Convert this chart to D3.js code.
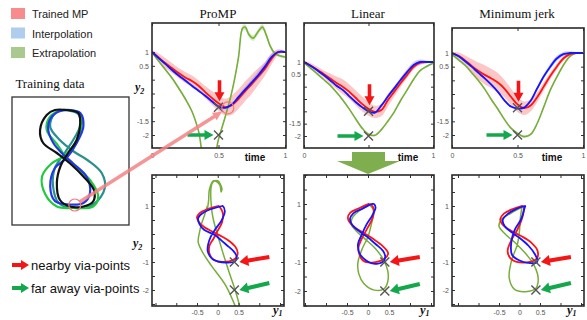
<!DOCTYPE html>
<html><head><meta charset="utf-8">
<script src="https://cdn.jsdelivr.net/npm/d3@7"></script>
<style>body{margin:0;background:#fff}svg{display:block}</style>
</head><body>
<svg id="c" width="587" height="320"></svg>
<script>
// ---------------- DATA ----------------
const time = [0,0.05,0.1,0.15,0.2,0.25,0.3,0.35,0.4,0.45,0.5,0.55,0.6,0.65,0.7,0.75,0.8,0.85,0.9,0.95,1];
const timePromGreen = [0,0.05,0.1,0.15,0.2,0.25,0.3,0.35,0.4,0.45,0.5,0.55,0.6,0.65,0.68,0.7,0.73,0.76,0.8,0.83,0.86,0.89,0.92,0.96,1];

// ProMP
const promRedY2  = [1,0.8,0.6,0.42,0.24,0.08,-0.05,-0.22,-0.45,-0.66,-0.85,-0.99,-0.92,-0.7,-0.42,-0.16,0.12,0.4,0.76,1.0,1];
const promRedY1  = [0,-0.38,-0.5,-0.45,-0.32,-0.12,0.05,0.25,0.42,0.48,0.44,0.2,-0.1,-0.2,-0.2,-0.1,0,0.1,0.12,0.02,0];
const promBlueY2 = [1,0.78,0.57,0.35,0.15,-0.03,-0.22,-0.4,-0.58,-0.78,-0.97,-1.02,-0.9,-0.63,-0.36,-0.1,0.17,0.48,0.82,1.0,1];
const promBlueY1 = [0.1,-0.33,-0.47,-0.44,-0.33,-0.08,0.08,0.22,0.36,0.45,0.42,0.2,-0.12,-0.24,-0.23,-0.17,-0.06,0.09,0.17,0.12,0.1];
const promGreenY2 = [1,0.67,0.37,0.06,-0.3,-0.69,-1.14,-1.86,-3.0,-3.1,-2.15,-1.35,-0.45,0.8,1.85,1.9,1.62,1.5,1.75,1.9,1.6,1.2,0.97,0.86,0.82];
const promGreenY1 = [-0.25,-0.32,-0.39,-0.44,-0.47,-0.35,-0.15,0.2,0.55,0.6,0.45,0.27,0.08,-0.14,-0.12,0.0,0.1,0.08,0.05,-0.1,-0.2,-0.22,-0.24,-0.25,-0.25];
const promRedBand  = [0.05,0.15,0.18,0.18,0.18,0.2,0.2,0.2,0.22,0.25,0.28,0.3,0.35,0.35,0.35,0.35,0.3,0.25,0.2,0.1,0.03];
const promBlueBand = [0.02,0.04,0.04,0.05,0.05,0.05,0.05,0.05,0.05,0.05,0.05,0.05,0.06,0.08,0.1,0.12,0.14,0.14,0.12,0.06,0.02];
const promGreenBand = [0.04,0.05,0.05,0.05,0.05,0.05,0.05,0.05,0.05,0.05,0.05,0.05,0.06,0.08,0.1,0.1,0.1,0.1,0.1,0.1,0.1,0.08,0.06,0.05,0.05];

// Linear
const linRedY2  = [1,0.86,0.7,0.52,0.34,0.16,0,-0.2,-0.45,-0.7,-0.9,-1.02,-0.95,-0.55,-0.2,0.15,0.48,0.8,0.97,1,1];
const linRedY1  = [0,-0.2,-0.42,-0.48,-0.42,-0.28,-0.1,0.12,0.35,0.48,0.38,0.1,-0.12,-0.23,-0.15,-0.02,0.1,0.14,0.08,0.02,0];
const linBlueY2 = [1,0.85,0.68,0.48,0.27,0.05,-0.13,-0.38,-0.62,-0.83,-1.0,-1.05,-0.76,-0.4,-0.06,0.28,0.6,0.88,1,1,1];
const linBlueY1 = [0.08,-0.12,-0.35,-0.43,-0.37,-0.2,-0.02,0.18,0.36,0.41,0.35,0.1,-0.18,-0.24,-0.15,-0.04,0.1,0.18,0.14,0.1,0.08];
const linGreenY2 = [0.97,0.75,0.53,0.3,0.07,-0.22,-0.54,-0.9,-1.3,-1.68,-1.93,-1.97,-1.74,-1.4,-1.02,-0.55,-0.13,0.3,0.65,0.82,0.95];
const linGreenY1 = [0.02,-0.22,-0.37,-0.4,-0.28,-0.06,0.18,0.36,0.47,0.47,0.38,0.15,-0.1,-0.22,-0.24,-0.14,0,0.08,0.13,0.12,0.05];
const linRedBand  = [0.05,0.1,0.12,0.15,0.2,0.25,0.3,0.3,0.3,0.3,0.28,0.25,0.25,0.25,0.2,0.15,0.12,0.1,0.08,0.05,0.03];
const linBlueBand = [0.02,0.03,0.04,0.04,0.04,0.04,0.04,0.04,0.04,0.04,0.04,0.04,0.05,0.06,0.08,0.1,0.12,0.12,0.1,0.05,0.02];
const linGreenBand = [0.04,0.04,0.04,0.04,0.04,0.04,0.04,0.04,0.04,0.04,0.04,0.04,0.04,0.04,0.04,0.05,0.05,0.05,0.05,0.04,0.04];

// Minimum jerk
const mjRedY2  = [1,0.9,0.73,0.53,0.35,0.2,0.07,-0.08,-0.3,-0.6,-0.88,-1.02,-0.92,-0.62,-0.23,0.16,0.5,0.8,0.96,1,1];
const mjRedY1  = [0.05,-0.15,-0.38,-0.47,-0.42,-0.3,-0.15,0.05,0.28,0.44,0.42,0.12,-0.18,-0.29,-0.2,-0.05,0.05,0.1,0.1,0.07,0.05];
const mjBlueY2 = [1,0.88,0.7,0.5,0.28,0.07,-0.16,-0.42,-0.73,-0.96,-1.03,-1.0,-0.75,-0.3,0.14,0.5,0.8,0.96,1,1,1];
const mjBlueY1 = [0.12,-0.1,-0.3,-0.41,-0.36,-0.2,0.02,0.22,0.38,0.44,0.4,0.1,-0.18,-0.2,-0.12,0.03,0.1,0.13,0.14,0.13,0.12];
const mjGreenY2 = [0.95,0.75,0.55,0.28,0,-0.32,-0.7,-1.05,-1.43,-1.75,-1.94,-2.06,-1.98,-1.58,-0.98,-0.36,0.12,0.55,0.88,1,1];
const mjGreenY1 = [0.05,-0.2,-0.42,-0.5,-0.35,-0.1,0.15,0.33,0.44,0.45,0.4,0.15,-0.12,-0.25,-0.2,-0.05,0,0.02,0.05,0.06,0.05];
const mjRedBand  = [0.05,0.12,0.18,0.25,0.3,0.35,0.35,0.35,0.32,0.3,0.28,0.25,0.22,0.18,0.15,0.12,0.1,0.08,0.06,0.04,0.03];
const mjBlueBand = [0.02,0.03,0.04,0.04,0.04,0.04,0.04,0.04,0.04,0.04,0.04,0.04,0.05,0.06,0.08,0.1,0.1,0.08,0.06,0.04,0.02];
const mjGreenBand = [0.04,0.04,0.04,0.04,0.04,0.04,0.04,0.04,0.04,0.04,0.04,0.04,0.04,0.04,0.04,0.05,0.05,0.05,0.05,0.04,0.04];

// via points
const viaTime = [0.5, 0.5];
const viaY2 = [-1, -2];
const viaY1 = [0.4, 0.4];

// training demonstrations (normalised y1, y2)
const trainTeal  = [[0.05,0.95],[0.3,0.88],[0.35,0.65],[0.2,0.4],[-0.05,0.1],[-0.3,-0.2],[-0.35,-0.55],[-0.2,-0.9],[0.2,-1.0],[0.7,-0.92],[0.98,-0.6],[0.9,-0.3],[0.55,-0.05],[0.2,0.12],[-0.2,0.38],[-0.42,0.62],[-0.32,0.88],[-0.1,0.96]];
const trainGreen = [[0,0.96],[0.34,0.9],[0.39,0.7],[0.26,0.36],[-0.05,0.05],[-0.4,-0.12],[-0.63,-0.37],[-0.55,-0.72],[-0.25,-0.97],[0.17,-1.0],[0.68,-0.97],[0.81,-0.77],[0.6,-0.44],[0.3,-0.22],[0.02,-0.02],[-0.25,0.28],[-0.51,0.56],[-0.43,0.82],[-0.2,0.94]];
const trainBlue  = [[0.09,0.96],[0.35,0.9],[0.43,0.63],[0.26,0.3],[0.0,0.0],[-0.3,-0.2],[-0.42,-0.57],[-0.3,-0.86],[-0.05,-0.92],[0.43,-0.9],[0.6,-0.7],[0.51,-0.37],[0.17,-0.11],[-0.1,0.08],[-0.34,0.3],[-0.47,0.56],[-0.42,0.78],[-0.2,0.93]];
const trainBlack = [[0,0.96],[0.3,0.9],[0.35,0.7],[0.26,0.36],[0.04,0.1],[-0.15,-0.15],[-0.25,-0.5],[-0.17,-0.84],[0.09,-0.97],[0.43,-0.97],[0.68,-0.87],[0.7,-0.64],[0.43,-0.37],[0.09,-0.11],[-0.25,0.1],[-0.6,0.3],[-0.68,0.56],[-0.51,0.86],[-0.3,0.96]];
const trainFocus = [0.21, -0.94];

const methods = ["ProMP", "Linear", "Minimum jerk"];
const legendItems = ["Trained MP", "Interpolation", "Extrapolation"];
const arrowLegend = ["nearby via-points", "far away via-points"];
const topYLabels = [1, 0.5, -1.5, -2];
const topXLabels = [0, 0.5, 1];
const botYLabels = [1, -1, -2];
const botXLabels = [-0.5, 0, 0.5];

// ---------------- DRAW ----------------
const svg = d3.select("#c");
const C = {red:"#ff1414", blue:"#1414ff", green:"#78ad3c",
  redBand:"rgba(246,120,120,0.42)", blueBand:"rgba(120,120,235,0.35)", greenBand:"rgba(150,215,110,0.45)",
  arrowRed:"#f41616", arrowGreen:"#14a84c", cross:"#555"};
const sans = "Liberation Sans, Arial, sans-serif";
const serif = "Liberation Serif, Times New Roman, serif";

const topPanels = [
  {box:[152,23,286,148], xr:[152,285], yr:[135,52], red:[promRedY2,promRedBand], blue:[promBlueY2,promBlueBand], green:[promGreenY2,promGreenBand], gt:timePromGreen, timeX:255, ylab:true},
  {box:[304,23,434,148], xr:[304,433], yr:[136,62], red:[linRedY2,linRedBand], blue:[linBlueY2,linBlueBand], green:[linGreenY2,linGreenBand], gt:time, timeX:408},
  {box:[452,28,584,148], xr:[452,583], yr:[135,53], red:[mjRedY2,mjRedBand], blue:[mjBlueY2,mjBlueBand], green:[mjGreenY2,mjGreenBand], gt:time, timeX:552},
];
const botPanels = [
  {box:[152,175,284,306], xr:[197,238.5], yr:[262,206], red:[promRedY1,promRedY2], blue:[promBlueY1,promBlueY2], green:[promGreenY1,promGreenY2], gt:timePromGreen, y1x:273, ylab:true},
  {box:[304,175,434,306], xr:[347,389], yr:[262,204], red:[linRedY1,linRedY2], blue:[linBlueY1,linBlueY2], green:[linGreenY1,linGreenY2], gt:time, y1x:420},
  {box:[452,175,584,306], xr:[499,540], yr:[262,206], red:[mjRedY1,mjRedY2], blue:[mjBlueY1,mjBlueY2], green:[mjGreenY1,mjGreenY2], gt:time, y1x:567},
];
const titleX = [218, 368, 517];

function arrow(g, x1, y1, x2, y2, color, sw=3.6, hl=9, hw=10) {
  const a = Math.atan2(y2-y1, x2-x1), L = Math.hypot(x2-x1, y2-y1);
  const gg = g.append("g").attr("transform", `translate(${x1},${y1}) rotate(${a*180/Math.PI})`);
  gg.append("path").attr("fill", color)
    .attr("d", `M0,${-sw/2}L${L-hl},${-sw/2}L${L-hl},${-hw/2}L${L},0L${L-hl},${hw/2}L${L-hl},${sw/2}L0,${sw/2}Z`);
}
function cross(g, x, y, s=4.5) {
  g.append("path").attr("d", `M${x-s},${y-s}L${x+s},${y+s}M${x-s},${y+s}L${x+s},${y-s}`)
    .attr("stroke", C.cross).attr("stroke-width", 1.4).attr("fill", "none");
}
function styleAxis(sel, size=7) {
  sel.select(".domain").remove();
  sel.selectAll("text").attr("font-size", size).attr("font-family", sans).attr("fill", "#555");
  sel.selectAll("line").attr("stroke", "#444");
}
function frame(g, p, xs, ys, xt, yt) {
  const [x0,y0,x1,y1] = p.box;
  const tick = (ax, tr) => g.append("g").attr("transform", tr).call(ax).call(s => { s.select(".domain").remove(); s.selectAll("line").attr("stroke","#333"); });
  tick(d3.axisBottom(xs).tickValues(xt).tickSize(-3).tickFormat(""), `translate(0,${y1})`);
  tick(d3.axisTop(xs).tickValues(xt).tickSize(-3).tickFormat(""), `translate(0,${y0})`);
  tick(d3.axisLeft(ys).tickValues(yt).tickSize(-3).tickFormat(""), `translate(${x0},0)`);
  tick(d3.axisRight(ys).tickValues(yt).tickSize(-3).tickFormat(""), `translate(${x1},0)`);
  g.append("rect").attr("x", x0).attr("y", y0).attr("width", x1-x0).attr("height", y1-y0)
    .attr("fill", "none").attr("stroke", "#2a2a2a").attr("stroke-width", 1.6);
}
let clipId = 0;
function clip(p) {
  const id = "cl" + (clipId++);
  const [x0,y0,x1,y1] = p.box;
  svg.append("clipPath").attr("id", id).append("rect").attr("x", x0).attr("y", y0).attr("width", x1-x0).attr("height", y1-y0);
  return `url(#${id})`;
}

// Top panels (y2 over time)
topPanels.forEach((p, k) => {
  const xs = d3.scaleLinear().domain([0,1]).range(p.xr);
  const ys = d3.scaleLinear().domain([-2,1]).range(p.yr);
  const g = svg.append("g");
  const cg = g.append("g").attr("clip-path", clip(p));
  const series = [
    {t:p.gt, v:p.green[0], b:p.green[1], col:C.green, band:C.greenBand, w:1.6},
    {t:time, v:p.red[0], b:p.red[1], col:C.red, band:C.redBand, w:1.8},
    {t:time, v:p.blue[0], b:p.blue[1], col:C.blue, band:C.blueBand, w:1.8},
  ];
  series.forEach(s => {
    const idx = d3.range(s.t.length);
    cg.append("path").datum(idx).attr("fill", s.band)
      .attr("d", d3.area().curve(d3.curveCatmullRom.alpha(0.5)).x(i => xs(s.t[i])).y0(i => ys(s.v[i]-s.b[i])).y1(i => ys(s.v[i]+s.b[i])));
  });
  series.forEach(s => {
    const idx = d3.range(s.t.length);
    cg.append("path").datum(idx).attr("fill", "none").attr("stroke", s.col).attr("stroke-width", s.w)
      .attr("d", d3.line().curve(d3.curveCatmullRom.alpha(0.5)).x(i => xs(s.t[i])).y(i => ys(s.v[i])));
  });
  frame(g, p, xs, ys, [0,0.5,1], [-2,-1.5,-1,-0.5,0,0.5,1]);
  const ax = g.append("g").attr("transform", `translate(${p.box[0]-1},0)`)
    .call(d3.axisLeft(ys).tickValues(topYLabels).tickSize(0).tickPadding(2).tickFormat(d => String(d)));
  styleAxis(ax);
  const bx = g.append("g").attr("transform", `translate(0,${p.box[3]+3})`)
    .call(d3.axisBottom(xs).tickValues(topXLabels).tickSize(0).tickPadding(2).tickFormat(d => String(d)));
  styleAxis(bx);
  g.append("text").attr("x", p.timeX).attr("y", 161).attr("text-anchor", "middle")
    .attr("font-family", sans).attr("font-weight", "bold").attr("font-size", 10).attr("fill", "#111").text("time");
  g.append("text").attr("x", titleX[k]).attr("y", 18).attr("text-anchor", "middle")
    .attr("font-family", serif).attr("font-size", 13).attr("fill", "#111").text(methods[k]);
  viaTime.forEach((t, i) => cross(g, xs(t), ys(viaY2[i])));
  const vx = xs(viaTime[0]), vy = ys(viaY2[0]), fy = ys(viaY2[1]);
  arrow(g, vx+1, vy-27, vx+1, vy-6, C.arrowRed, 3.6, 9, 10);
  arrow(g, vx-31, fy, vx-5, fy, C.arrowGreen, 3.6, 9, 10);
  if (p.ylab) {
    const t = g.append("text").attr("x", 135).attr("y", 91).attr("font-family", serif).attr("font-weight", "bold")
      .attr("font-style", "italic").attr("font-size", 12).attr("fill", "#111").text("y");
    t.append("tspan").attr("font-size", 8).attr("dy", 3).text("2");
  }
});

// Bottom panels (y2 over y1)
botPanels.forEach((p, k) => {
  const xs = d3.scaleLinear().domain([-0.5,0.5]).range(p.xr);
  const ys = d3.scaleLinear().domain([-1,1]).range(p.yr);
  const g = svg.append("g");
  const cg = g.append("g").attr("clip-path", clip(p));
  const series = [
    {n:p.gt.length, d:p.green, col:C.green, w:1.5},
    {n:time.length, d:p.red, col:C.red, w:1.8},
    {n:time.length, d:p.blue, col:C.blue, w:1.8},
  ];
  series.forEach(s => {
    cg.append("path").datum(d3.range(s.n)).attr("fill", "none").attr("stroke", s.col).attr("stroke-width", s.w)
      .attr("d", d3.line().curve(d3.curveCatmullRom.alpha(0.5)).x(i => xs(s.d[0][i])).y(i => ys(s.d[1][i])));
  });
  frame(g, p, xs, ys, [-1.5,-1,-0.5,0,0.5,1,1.5], [-2.5,-2,-1.5,-1,-0.5,0,0.5,1,1.5,2]);
  const ax = g.append("g").attr("transform", `translate(${p.box[0]-1},0)`)
    .call(d3.axisLeft(ys).tickValues(botYLabels).tickSize(0).tickPadding(2).tickFormat(d => String(d)));
  styleAxis(ax);
  const bx = g.append("g").attr("transform", `translate(0,${p.box[3]+2})`)
    .call(d3.axisBottom(xs).tickValues(botXLabels).tickSize(0).tickPadding(2).tickFormat(d => String(d)));
  styleAxis(bx);
  const t1 = g.append("text").attr("x", p.y1x).attr("y", 314).attr("font-family", serif).attr("font-weight", "bold")
    .attr("font-style", "italic").attr("font-size", 12.5).attr("fill", "#111").text("y");
  t1.append("tspan").attr("font-size", 8).attr("dy", 2).text("1");
  viaY1.forEach((v, i) => cross(g, xs(v), ys(viaY2[i])));
  const vx = xs(viaY1[0]);
  arrow(g, vx+35, ys(viaY2[0])-5, vx+5, ys(viaY2[0]), C.arrowRed, 4, 9, 11);
  arrow(g, vx+35, ys(viaY2[1])-7, vx+5, ys(viaY2[1]), C.arrowGreen, 4, 9, 11);
  if (p.ylab) {
    const t = g.append("text").attr("x", 133).attr("y", 247).attr("font-family", serif).attr("font-weight", "bold")
      .attr("font-style", "italic").attr("font-size", 12).attr("fill", "#111").text("y");
    t.append("tspan").attr("font-size", 8).attr("dy", 3).text("2");
  }
});

// Training data panel
const tb = [12, 97, 129, 225];
const tx = d3.scaleLinear().domain([-1.4,1.6]).range([12,129]);
const ty = d3.scaleLinear().domain([-1,1]).range([208,108]);
svg.append("text").attr("x", 50).attr("y", 88).attr("text-anchor", "middle").attr("font-family", serif)
  .attr("font-size", 13).attr("fill", "#111").text("Training data");
const tl = d3.line().curve(d3.curveCatmullRomClosed.alpha(0.5)).x(d => tx(d[0])).y(d => ty(d[1]));
[[trainTeal,"#2a8f8f"],[trainGreen,"#22c940"],[trainBlue,"#2238e6"],[trainBlack,"#111"]].forEach(([d,c]) => {
  svg.append("path").datum(d).attr("d", tl).attr("fill", "none").attr("stroke", c).attr("stroke-width", 2.2);
});
svg.append("rect").attr("x", tb[0]).attr("y", tb[1]).attr("width", tb[2]-tb[0]).attr("height", tb[3]-tb[1])
  .attr("fill", "none").attr("stroke", "#333").attr("stroke-width", 1.3);

// circles + connector
const fx = tx(trainFocus[0]), fy = ty(trainFocus[1]);
const px = d3.scaleLinear().domain([0,1]).range(topPanels[0].xr), py = d3.scaleLinear().domain([-2,1]).range(topPanels[0].yr);
const cx2 = px(0.57), cy2 = py(-1.02);
svg.append("circle").attr("cx", fx).attr("cy", fy).attr("r", 6).attr("fill", "none").attr("stroke", "#f37a7a").attr("stroke-width", 1.2);
svg.append("circle").attr("cx", cx2).attr("cy", cy2).attr("r", 6).attr("fill", "none").attr("stroke", "#f37a7a").attr("stroke-width", 1.2);
(function(){
  const a = Math.atan2(cy2-fy, cx2-fx);
  const sx = fx + 6*Math.cos(a), sy = fy + 6*Math.sin(a);
  const ex = cx2 - 7*Math.cos(a), ey = cy2 - 7*Math.sin(a);
  arrow(svg, sx, sy, ex, ey, "rgba(244,130,130,0.85)", 3.5, 9, 9);
})();

// big green arrow between Linear panels
svg.append("path").attr("fill", "#7fae4f")
  .attr("d", "M352,152L385,152L385,161L400,161L368,174L337,161L352,161Z");

// Legend top-left
const legCols = ["#f88c8c", "#b0cdee", "#a9c98e"];
legendItems.forEach((s, i) => {
  svg.append("rect").attr("x", 11).attr("y", 8 + i*19.5).attr("width", 14).attr("height", 11).attr("fill", legCols[i]);
  svg.append("text").attr("x", 32).attr("y", 18 + i*19.5).attr("font-family", sans).attr("font-size", 11).attr("fill", "#222").text(s);
});
// Arrow legend bottom-left
[[C.arrowRed, 265], [C.arrowGreen, 288]].forEach(([c, y], i) => {
  arrow(svg, 12, y, 29, y, c, 4, 8, 10);
  svg.append("text").attr("x", 31).attr("y", y + 5).attr("font-family", sans).attr("font-size", 13).attr("fill", "#111").text(arrowLegend[i]);
});
</script>
</body></html>
